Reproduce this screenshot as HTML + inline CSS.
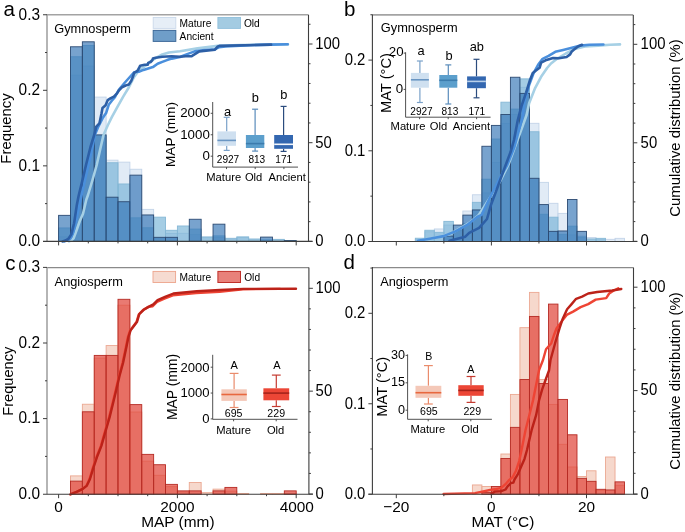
<!DOCTYPE html>
<html><head><meta charset="utf-8"><style>
html,body{margin:0;padding:0;background:#fff;}
body{width:685px;height:532px;overflow:hidden;}
svg{display:block;will-change:transform;filter:blur(0.3px);}
</style></head><body>
<svg width="685" height="532" viewBox="0 0 685 532" font-family='"Liberation Sans", sans-serif'>
<rect width="685" height="532" fill="#ffffff"/>
<rect x="58.60" y="236.87" width="11.88" height="4.53" fill="#c8daee" fill-opacity="0.55" stroke="#c3d4e8" stroke-width="0.9" />
<rect x="70.48" y="75.19" width="11.88" height="166.21" fill="#c8daee" fill-opacity="0.55" stroke="#c3d4e8" stroke-width="0.9" />
<rect x="82.36" y="66.12" width="11.88" height="175.28" fill="#c8daee" fill-opacity="0.55" stroke="#c3d4e8" stroke-width="0.9" />
<rect x="94.24" y="97.10" width="11.88" height="144.30" fill="#c8daee" fill-opacity="0.55" stroke="#c3d4e8" stroke-width="0.9" />
<rect x="106.12" y="160.18" width="11.88" height="81.22" fill="#c8daee" fill-opacity="0.55" stroke="#c3d4e8" stroke-width="0.9" />
<rect x="118.00" y="162.15" width="11.88" height="79.25" fill="#c8daee" fill-opacity="0.55" stroke="#c3d4e8" stroke-width="0.9" />
<rect x="129.88" y="169.25" width="11.88" height="72.15" fill="#c8daee" fill-opacity="0.55" stroke="#c3d4e8" stroke-width="0.9" />
<rect x="141.76" y="209.37" width="11.88" height="32.03" fill="#c8daee" fill-opacity="0.55" stroke="#c3d4e8" stroke-width="0.9" />
<rect x="153.64" y="238.38" width="11.88" height="3.02" fill="#c8daee" fill-opacity="0.55" stroke="#c3d4e8" stroke-width="0.9" />
<rect x="165.52" y="233.47" width="11.88" height="7.93" fill="#c8daee" fill-opacity="0.55" stroke="#c3d4e8" stroke-width="0.9" />
<rect x="177.40" y="233.32" width="11.88" height="8.08" fill="#c8daee" fill-opacity="0.55" stroke="#c3d4e8" stroke-width="0.9" />
<rect x="189.28" y="234.68" width="11.88" height="6.72" fill="#c8daee" fill-opacity="0.55" stroke="#c3d4e8" stroke-width="0.9" />
<rect x="201.16" y="237.02" width="11.88" height="4.38" fill="#c8daee" fill-opacity="0.55" stroke="#c3d4e8" stroke-width="0.9" />
<rect x="213.04" y="237.62" width="11.88" height="3.78" fill="#c8daee" fill-opacity="0.55" stroke="#c3d4e8" stroke-width="0.9" />
<rect x="224.92" y="239.13" width="11.88" height="2.27" fill="#c8daee" fill-opacity="0.55" stroke="#c3d4e8" stroke-width="0.9" />
<rect x="236.80" y="237.62" width="11.88" height="3.78" fill="#c8daee" fill-opacity="0.55" stroke="#c3d4e8" stroke-width="0.9" />
<rect x="248.68" y="239.89" width="11.88" height="1.51" fill="#c8daee" fill-opacity="0.55" stroke="#c3d4e8" stroke-width="0.9" />
<rect x="272.44" y="239.89" width="11.88" height="1.51" fill="#c8daee" fill-opacity="0.55" stroke="#c3d4e8" stroke-width="0.9" />
<rect x="58.60" y="227.95" width="11.88" height="13.45" fill="#6eafd4" fill-opacity="0.62" stroke="#86b8d6" stroke-width="0.9" />
<rect x="70.48" y="56.76" width="11.88" height="184.64" fill="#6eafd4" fill-opacity="0.62" stroke="#86b8d6" stroke-width="0.9" />
<rect x="82.36" y="45.50" width="11.88" height="195.90" fill="#6eafd4" fill-opacity="0.62" stroke="#86b8d6" stroke-width="0.9" />
<rect x="94.24" y="135.63" width="11.88" height="105.77" fill="#6eafd4" fill-opacity="0.62" stroke="#86b8d6" stroke-width="0.9" />
<rect x="106.12" y="162.75" width="11.88" height="78.65" fill="#6eafd4" fill-opacity="0.62" stroke="#86b8d6" stroke-width="0.9" />
<rect x="118.00" y="183.98" width="11.88" height="57.42" fill="#6eafd4" fill-opacity="0.62" stroke="#86b8d6" stroke-width="0.9" />
<rect x="129.88" y="217.83" width="11.88" height="23.57" fill="#6eafd4" fill-opacity="0.62" stroke="#86b8d6" stroke-width="0.9" />
<rect x="141.76" y="227.80" width="11.88" height="13.60" fill="#6eafd4" fill-opacity="0.62" stroke="#86b8d6" stroke-width="0.9" />
<rect x="153.64" y="217.15" width="11.88" height="24.25" fill="#6eafd4" fill-opacity="0.62" stroke="#86b8d6" stroke-width="0.9" />
<rect x="165.52" y="230.29" width="11.88" height="11.11" fill="#6eafd4" fill-opacity="0.62" stroke="#86b8d6" stroke-width="0.9" />
<rect x="177.40" y="225.99" width="11.88" height="15.41" fill="#6eafd4" fill-opacity="0.62" stroke="#86b8d6" stroke-width="0.9" />
<rect x="189.28" y="229.09" width="11.88" height="12.31" fill="#6eafd4" fill-opacity="0.62" stroke="#86b8d6" stroke-width="0.9" />
<rect x="201.16" y="237.02" width="11.88" height="4.38" fill="#6eafd4" fill-opacity="0.62" stroke="#86b8d6" stroke-width="0.9" />
<rect x="213.04" y="235.88" width="11.88" height="5.52" fill="#6eafd4" fill-opacity="0.62" stroke="#86b8d6" stroke-width="0.9" />
<rect x="224.92" y="238.30" width="11.88" height="3.10" fill="#6eafd4" fill-opacity="0.62" stroke="#86b8d6" stroke-width="0.9" />
<rect x="236.80" y="236.87" width="11.88" height="4.53" fill="#6eafd4" fill-opacity="0.62" stroke="#86b8d6" stroke-width="0.9" />
<rect x="248.68" y="238.98" width="11.88" height="2.42" fill="#6eafd4" fill-opacity="0.62" stroke="#86b8d6" stroke-width="0.9" />
<rect x="260.56" y="239.89" width="11.88" height="1.51" fill="#6eafd4" fill-opacity="0.62" stroke="#86b8d6" stroke-width="0.9" />
<rect x="272.44" y="239.36" width="11.88" height="2.04" fill="#6eafd4" fill-opacity="0.62" stroke="#86b8d6" stroke-width="0.9" />
<rect x="284.32" y="240.64" width="11.88" height="0.76" fill="#6eafd4" fill-opacity="0.62" stroke="#86b8d6" stroke-width="0.9" />
<rect x="58.60" y="215.34" width="11.88" height="26.06" fill="#3273b4" fill-opacity="0.66" stroke="#2c4a72" stroke-width="0.9" />
<rect x="70.48" y="46.78" width="11.88" height="194.62" fill="#3273b4" fill-opacity="0.66" stroke="#2c4a72" stroke-width="0.9" />
<rect x="82.36" y="41.80" width="11.88" height="199.60" fill="#3273b4" fill-opacity="0.66" stroke="#2c4a72" stroke-width="0.9" />
<rect x="94.24" y="134.87" width="11.88" height="106.53" fill="#3273b4" fill-opacity="0.66" stroke="#2c4a72" stroke-width="0.9" />
<rect x="106.12" y="197.20" width="11.88" height="44.20" fill="#3273b4" fill-opacity="0.66" stroke="#2c4a72" stroke-width="0.9" />
<rect x="118.00" y="201.74" width="11.88" height="39.66" fill="#3273b4" fill-opacity="0.66" stroke="#2c4a72" stroke-width="0.9" />
<rect x="129.88" y="175.14" width="11.88" height="66.26" fill="#3273b4" fill-opacity="0.66" stroke="#2c4a72" stroke-width="0.9" />
<rect x="141.76" y="214.96" width="11.88" height="26.44" fill="#3273b4" fill-opacity="0.66" stroke="#2c4a72" stroke-width="0.9" />
<rect x="153.64" y="237.32" width="11.88" height="4.08" fill="#3273b4" fill-opacity="0.66" stroke="#2c4a72" stroke-width="0.9" />
<rect x="165.52" y="237.32" width="11.88" height="4.08" fill="#3273b4" fill-opacity="0.66" stroke="#2c4a72" stroke-width="0.9" />
<rect x="189.28" y="219.26" width="11.88" height="22.14" fill="#3273b4" fill-opacity="0.66" stroke="#2c4a72" stroke-width="0.9" />
<rect x="213.04" y="224.17" width="11.88" height="17.23" fill="#3273b4" fill-opacity="0.66" stroke="#2c4a72" stroke-width="0.9" />
<rect x="260.56" y="237.09" width="11.88" height="4.31" fill="#3273b4" fill-opacity="0.66" stroke="#2c4a72" stroke-width="0.9" />
<rect x="284.32" y="240.64" width="11.88" height="0.76" fill="#3273b4" fill-opacity="0.66" stroke="#2c4a72" stroke-width="0.9" />
<polyline points="69.0,241.4 71.0,240.5 73.6,238.2 76.4,230.7 79.7,221.3 83.0,213.8 86.3,199.7 88.0,195.0 92.5,180.0 96.7,165.0 100.5,148.0 103.5,135.0 107.7,125.5 111.8,117.2 118.0,105.9 123.2,96.6 128.3,88.3 130.3,84.5 134.1,77.0 138.8,70.4 144.5,66.6 151.0,61.0 155.7,58.2 162.3,54.4 168.9,52.5 180.0,51.2 197.5,48.4 217.7,45.9 240.0,45.0 270.0,44.6 288.0,44.4" fill="none" stroke="#a6d0e5" stroke-width="2.6" stroke-linejoin="round" stroke-linecap="round" />
<polyline points="64.5,241.4 67.5,240.3 70.3,238.7 73.1,232.6 76.0,221.3 78.8,208.1 81.6,195.0 85.0,180.0 89.0,163.0 92.5,147.0 94.8,135.0 98.3,126.6 102.5,118.3 106.1,113.1 108.7,104.8 111.8,100.7 114.9,97.1 119.0,89.5 124.5,83.0 129.4,77.5 134.1,72.3 138.8,71.8 143.5,69.9 148.2,68.5 152.9,67.1 157.6,63.8 162.3,61.9 167.0,60.1 171.7,58.6 180.0,57.0 185.8,54.6 194.6,51.4 205.0,50.0 215.0,49.2 219.0,47.3 225.5,46.4 250.0,45.2 271.1,44.6 287.7,44.3" fill="none" stroke="#4a8fdc" stroke-width="2.6" stroke-linejoin="round" stroke-linecap="round" />
<polyline points="62.5,241.4 66.0,240.3 68.5,238.7 71.3,234.4 74.1,223.2 76.9,204.4 78.6,196.0 82.0,182.0 86.0,165.0 90.5,147.0 94.2,135.0 96.3,126.6 99.4,123.4 101.4,114.1 102.5,107.9 105.6,105.3 107.7,100.2 110.8,98.1 113.9,96.6 117.0,93.4 119.0,90.3 121.9,87.3 125.6,85.5 128.9,84.5 131.3,80.7 133.2,76.0 134.1,72.8 137.4,70.9 138.8,68.5 140.2,65.7 144.5,64.8 147.8,64.8 148.2,62.9 150.6,62.0 152.5,60.0 152.9,58.6 155.7,57.7 162.3,56.8 171.7,56.3 180.0,56.7 185.8,56.2 191.7,56.1 199.3,51.4 215.0,49.7 217.4,46.8 219.4,45.9 245.0,45.2 271.1,44.6" fill="none" stroke="#2d5fa6" stroke-width="2.6" stroke-linejoin="round" stroke-linecap="round" />
<line x1="47.00" y1="14.85" x2="308.50" y2="14.85" stroke="#a3a3a3" stroke-width="1.5"/>
<line x1="47.00" y1="14.35" x2="47.00" y2="241.40" stroke="#a3a3a3" stroke-width="1.6"/>
<line x1="43.00" y1="241.40" x2="312.50" y2="241.40" stroke="#3d3d3d" stroke-width="1.1"/>
<line x1="308.50" y1="14.85" x2="308.50" y2="241.40" stroke="#3d3d3d" stroke-width="1.1"/>
<line x1="43.00" y1="165.85" x2="47.00" y2="165.85" stroke="#3d3d3d" stroke-width="1.0"/>
<line x1="43.00" y1="90.30" x2="47.00" y2="90.30" stroke="#3d3d3d" stroke-width="1.0"/>
<line x1="43.00" y1="14.75" x2="47.00" y2="14.75" stroke="#3d3d3d" stroke-width="1.0"/>
<line x1="45.00" y1="203.62" x2="47.00" y2="203.62" stroke="#3d3d3d" stroke-width="1.0"/>
<line x1="45.00" y1="128.07" x2="47.00" y2="128.07" stroke="#3d3d3d" stroke-width="1.0"/>
<line x1="45.00" y1="52.53" x2="47.00" y2="52.53" stroke="#3d3d3d" stroke-width="1.0"/>
<text x="0" y="0" font-size="15.4" text-anchor="end" fill="#000" transform="translate(40.00,246.20) scale(1,1.07)">0.0</text>
<text x="0" y="0" font-size="15.4" text-anchor="end" fill="#000" transform="translate(40.00,170.65) scale(1,1.07)">0.1</text>
<text x="0" y="0" font-size="15.4" text-anchor="end" fill="#000" transform="translate(40.00,95.10) scale(1,1.07)">0.2</text>
<text x="0" y="0" font-size="15.4" text-anchor="end" fill="#000" transform="translate(40.00,19.55) scale(1,1.07)">0.3</text>
<line x1="308.50" y1="241.40" x2="312.50" y2="241.40" stroke="#3d3d3d" stroke-width="1.0"/>
<line x1="308.50" y1="142.70" x2="312.50" y2="142.70" stroke="#3d3d3d" stroke-width="1.0"/>
<line x1="308.50" y1="44.00" x2="312.50" y2="44.00" stroke="#3d3d3d" stroke-width="1.0"/>
<line x1="308.50" y1="221.66" x2="310.50" y2="221.66" stroke="#3d3d3d" stroke-width="1.0"/>
<line x1="308.50" y1="201.92" x2="310.50" y2="201.92" stroke="#3d3d3d" stroke-width="1.0"/>
<line x1="308.50" y1="182.18" x2="310.50" y2="182.18" stroke="#3d3d3d" stroke-width="1.0"/>
<line x1="308.50" y1="162.44" x2="310.50" y2="162.44" stroke="#3d3d3d" stroke-width="1.0"/>
<line x1="308.50" y1="122.96" x2="310.50" y2="122.96" stroke="#3d3d3d" stroke-width="1.0"/>
<line x1="308.50" y1="103.22" x2="310.50" y2="103.22" stroke="#3d3d3d" stroke-width="1.0"/>
<line x1="308.50" y1="83.48" x2="310.50" y2="83.48" stroke="#3d3d3d" stroke-width="1.0"/>
<line x1="308.50" y1="63.74" x2="310.50" y2="63.74" stroke="#3d3d3d" stroke-width="1.0"/>
<line x1="308.50" y1="24.26" x2="310.50" y2="24.26" stroke="#3d3d3d" stroke-width="1.0"/>
<text x="0" y="0" font-size="14.9" text-anchor="start" fill="#000" transform="translate(315.30,246.20) scale(1,1.07)">0</text>
<text x="0" y="0" font-size="14.9" text-anchor="start" fill="#000" transform="translate(315.30,147.50) scale(1,1.07)">50</text>
<text x="0" y="0" font-size="14.9" text-anchor="start" fill="#000" transform="translate(315.30,48.80) scale(1,1.07)">100</text>
<line x1="58.60" y1="241.40" x2="58.60" y2="245.40" stroke="#3d3d3d" stroke-width="1.0"/>
<line x1="177.40" y1="241.40" x2="177.40" y2="245.40" stroke="#3d3d3d" stroke-width="1.0"/>
<line x1="296.20" y1="241.40" x2="296.20" y2="245.40" stroke="#3d3d3d" stroke-width="1.0"/>
<line x1="88.30" y1="241.40" x2="88.30" y2="243.40" stroke="#3d3d3d" stroke-width="1.0"/>
<line x1="118.00" y1="241.40" x2="118.00" y2="243.40" stroke="#3d3d3d" stroke-width="1.0"/>
<line x1="147.70" y1="241.40" x2="147.70" y2="243.40" stroke="#3d3d3d" stroke-width="1.0"/>
<line x1="207.10" y1="241.40" x2="207.10" y2="243.40" stroke="#3d3d3d" stroke-width="1.0"/>
<line x1="236.80" y1="241.40" x2="236.80" y2="243.40" stroke="#3d3d3d" stroke-width="1.0"/>
<line x1="266.50" y1="241.40" x2="266.50" y2="243.40" stroke="#3d3d3d" stroke-width="1.0"/>
<text x="54.20" y="32.50" font-size="12.8" text-anchor="start" fill="#000" >Gymnosperm</text>
<rect x="153.20" y="17.50" width="22.60" height="10.90" fill="#e6eef7" stroke="#cbd9ea" stroke-width="0.9" />
<rect x="217.90" y="17.50" width="22.60" height="10.90" fill="#a3cbe2" stroke="#8fbfdb" stroke-width="0.9" />
<rect x="153.20" y="30.40" width="22.60" height="11.00" fill="#6f9ec9" stroke="#3d6a99" stroke-width="1.0" />
<text x="179.60" y="26.90" font-size="10.2" text-anchor="start" fill="#000" >Mature</text>
<text x="243.90" y="26.90" font-size="10.2" text-anchor="start" fill="#000" >Old</text>
<text x="179.60" y="39.70" font-size="10.2" text-anchor="start" fill="#000" >Ancient</text>
<line x1="212.70" y1="102.00" x2="212.70" y2="167.10" stroke="#3d3d3d" stroke-width="0.9"/>
<line x1="212.70" y1="167.10" x2="298.00" y2="167.10" stroke="#3d3d3d" stroke-width="0.9"/>
<line x1="210.70" y1="156.20" x2="212.70" y2="156.20" stroke="#3d3d3d" stroke-width="0.9"/>
<line x1="210.70" y1="134.75" x2="212.70" y2="134.75" stroke="#3d3d3d" stroke-width="0.9"/>
<line x1="210.70" y1="113.30" x2="212.70" y2="113.30" stroke="#3d3d3d" stroke-width="0.9"/>
<line x1="226.50" y1="167.10" x2="226.50" y2="169.10" stroke="#3d3d3d" stroke-width="0.9"/>
<line x1="255.20" y1="167.10" x2="255.20" y2="169.10" stroke="#3d3d3d" stroke-width="0.9"/>
<line x1="283.90" y1="167.10" x2="283.90" y2="169.10" stroke="#3d3d3d" stroke-width="0.9"/>
<text x="209.80" y="117.30" font-size="13.3" text-anchor="end" fill="#000" >2000</text>
<text x="209.80" y="138.75" font-size="13.3" text-anchor="end" fill="#000" >1000</text>
<text x="209.80" y="160.20" font-size="13.3" text-anchor="end" fill="#000" >0</text>
<text x="0" y="0" font-size="13.7" text-anchor="middle" fill="#000" transform="translate(175.30,134.50) rotate(-90)">MAP (mm)</text>
<line x1="226.70" y1="117.30" x2="226.70" y2="131.40" stroke="#7aa1c9" stroke-width="1.2"/>
<line x1="226.70" y1="145.80" x2="226.70" y2="150.40" stroke="#7aa1c9" stroke-width="1.2"/>
<line x1="223.70" y1="117.30" x2="229.70" y2="117.30" stroke="#7aa1c9" stroke-width="1.2"/>
<line x1="223.70" y1="150.40" x2="229.70" y2="150.40" stroke="#7aa1c9" stroke-width="1.2"/>
<rect x="217.40" y="131.40" width="18.60" height="14.40" fill="#cfe0f0" stroke="none" stroke-width="0" />
<line x1="217.40" y1="140.40" x2="236.00" y2="140.40" stroke="#6a96c3" stroke-width="1.6"/>
<line x1="255.10" y1="109.20" x2="255.10" y2="135.00" stroke="#5a8cbb" stroke-width="1.2"/>
<line x1="255.10" y1="148.00" x2="255.10" y2="151.10" stroke="#5a8cbb" stroke-width="1.2"/>
<line x1="252.10" y1="109.20" x2="258.10" y2="109.20" stroke="#5a8cbb" stroke-width="1.2"/>
<line x1="252.10" y1="151.10" x2="258.10" y2="151.10" stroke="#5a8cbb" stroke-width="1.2"/>
<rect x="245.90" y="135.00" width="18.40" height="13.00" fill="#5c9fcc" stroke="none" stroke-width="0" />
<line x1="245.90" y1="143.60" x2="264.30" y2="143.60" stroke="#3c7cad" stroke-width="1.6"/>
<line x1="283.60" y1="106.40" x2="283.60" y2="135.00" stroke="#2b4c7e" stroke-width="1.2"/>
<line x1="283.60" y1="148.80" x2="283.60" y2="151.40" stroke="#2b4c7e" stroke-width="1.2"/>
<line x1="280.60" y1="106.40" x2="286.60" y2="106.40" stroke="#2b4c7e" stroke-width="1.2"/>
<line x1="280.60" y1="151.40" x2="286.60" y2="151.40" stroke="#2b4c7e" stroke-width="1.2"/>
<rect x="274.20" y="135.00" width="18.80" height="13.80" fill="#3367b0" stroke="none" stroke-width="0" />
<line x1="274.20" y1="144.30" x2="293.00" y2="144.30" stroke="#f2f6fb" stroke-width="1.6"/>
<text x="227.60" y="115.50" font-size="12.8" text-anchor="middle" fill="#000" >a</text>
<text x="255.20" y="102.10" font-size="12.8" text-anchor="middle" fill="#000" >b</text>
<text x="283.70" y="98.60" font-size="12.8" text-anchor="middle" fill="#000" >b</text>
<text x="228.00" y="162.70" font-size="10.1" text-anchor="middle" fill="#000" >2927</text>
<text x="256.80" y="162.70" font-size="10.1" text-anchor="middle" fill="#000" >813</text>
<text x="283.70" y="162.70" font-size="10.1" text-anchor="middle" fill="#000" >171</text>
<text x="223.70" y="180.60" font-size="11.2" text-anchor="middle" fill="#000" >Mature</text>
<text x="253.60" y="180.60" font-size="11.2" text-anchor="middle" fill="#000" >Old</text>
<text x="287.20" y="180.60" font-size="11.2" text-anchor="middle" fill="#000" >Ancient</text>
<rect x="415.32" y="239.69" width="9.51" height="1.81" fill="#c8daee" fill-opacity="0.55" stroke="#c3d4e8" stroke-width="0.9" />
<rect x="424.83" y="231.80" width="9.51" height="9.70" fill="#c8daee" fill-opacity="0.55" stroke="#c3d4e8" stroke-width="0.9" />
<rect x="434.34" y="228.98" width="9.51" height="12.52" fill="#c8daee" fill-opacity="0.55" stroke="#c3d4e8" stroke-width="0.9" />
<rect x="443.85" y="225.08" width="9.51" height="16.42" fill="#c8daee" fill-opacity="0.55" stroke="#c3d4e8" stroke-width="0.9" />
<rect x="453.36" y="230.62" width="9.51" height="10.88" fill="#c8daee" fill-opacity="0.55" stroke="#c3d4e8" stroke-width="0.9" />
<rect x="462.87" y="211.02" width="9.51" height="30.48" fill="#c8daee" fill-opacity="0.55" stroke="#c3d4e8" stroke-width="0.9" />
<rect x="472.38" y="194.79" width="9.51" height="46.71" fill="#c8daee" fill-opacity="0.55" stroke="#c3d4e8" stroke-width="0.9" />
<rect x="481.89" y="192.98" width="9.51" height="48.52" fill="#c8daee" fill-opacity="0.55" stroke="#c3d4e8" stroke-width="0.9" />
<rect x="491.40" y="162.59" width="9.51" height="78.91" fill="#c8daee" fill-opacity="0.55" stroke="#c3d4e8" stroke-width="0.9" />
<rect x="500.91" y="123.59" width="9.51" height="117.91" fill="#c8daee" fill-opacity="0.55" stroke="#c3d4e8" stroke-width="0.9" />
<rect x="510.42" y="114.52" width="9.51" height="126.98" fill="#c8daee" fill-opacity="0.55" stroke="#c3d4e8" stroke-width="0.9" />
<rect x="519.93" y="87.31" width="9.51" height="154.19" fill="#c8daee" fill-opacity="0.55" stroke="#c3d4e8" stroke-width="0.9" />
<rect x="529.44" y="123.32" width="9.51" height="118.18" fill="#c8daee" fill-opacity="0.55" stroke="#c3d4e8" stroke-width="0.9" />
<rect x="538.95" y="182.36" width="9.51" height="59.14" fill="#c8daee" fill-opacity="0.55" stroke="#c3d4e8" stroke-width="0.9" />
<rect x="548.46" y="203.32" width="9.51" height="38.18" fill="#c8daee" fill-opacity="0.55" stroke="#c3d4e8" stroke-width="0.9" />
<rect x="557.97" y="213.38" width="9.51" height="28.12" fill="#c8daee" fill-opacity="0.55" stroke="#c3d4e8" stroke-width="0.9" />
<rect x="567.48" y="234.97" width="9.51" height="6.53" fill="#c8daee" fill-opacity="0.55" stroke="#c3d4e8" stroke-width="0.9" />
<rect x="576.99" y="236.06" width="9.51" height="5.44" fill="#c8daee" fill-opacity="0.55" stroke="#c3d4e8" stroke-width="0.9" />
<rect x="586.50" y="237.60" width="9.51" height="3.90" fill="#c8daee" fill-opacity="0.55" stroke="#c3d4e8" stroke-width="0.9" />
<rect x="596.01" y="239.69" width="9.51" height="1.81" fill="#c8daee" fill-opacity="0.55" stroke="#c3d4e8" stroke-width="0.9" />
<rect x="605.52" y="239.32" width="9.51" height="2.18" fill="#c8daee" fill-opacity="0.55" stroke="#c3d4e8" stroke-width="0.9" />
<rect x="615.03" y="238.33" width="9.51" height="3.17" fill="#c8daee" fill-opacity="0.55" stroke="#c3d4e8" stroke-width="0.9" />
<rect x="415.32" y="238.23" width="9.51" height="3.27" fill="#6eafd4" fill-opacity="0.62" stroke="#86b8d6" stroke-width="0.9" />
<rect x="424.83" y="230.25" width="9.51" height="11.25" fill="#6eafd4" fill-opacity="0.62" stroke="#86b8d6" stroke-width="0.9" />
<rect x="434.34" y="232.34" width="9.51" height="9.16" fill="#6eafd4" fill-opacity="0.62" stroke="#86b8d6" stroke-width="0.9" />
<rect x="443.85" y="221.36" width="9.51" height="20.14" fill="#6eafd4" fill-opacity="0.62" stroke="#86b8d6" stroke-width="0.9" />
<rect x="453.36" y="230.62" width="9.51" height="10.88" fill="#6eafd4" fill-opacity="0.62" stroke="#86b8d6" stroke-width="0.9" />
<rect x="462.87" y="223.36" width="9.51" height="18.14" fill="#6eafd4" fill-opacity="0.62" stroke="#86b8d6" stroke-width="0.9" />
<rect x="472.38" y="202.32" width="9.51" height="39.18" fill="#6eafd4" fill-opacity="0.62" stroke="#86b8d6" stroke-width="0.9" />
<rect x="481.89" y="179.19" width="9.51" height="62.31" fill="#6eafd4" fill-opacity="0.62" stroke="#86b8d6" stroke-width="0.9" />
<rect x="491.40" y="139.01" width="9.51" height="102.49" fill="#6eafd4" fill-opacity="0.62" stroke="#86b8d6" stroke-width="0.9" />
<rect x="500.91" y="102.18" width="9.51" height="139.32" fill="#6eafd4" fill-opacity="0.62" stroke="#86b8d6" stroke-width="0.9" />
<rect x="510.42" y="109.08" width="9.51" height="132.42" fill="#6eafd4" fill-opacity="0.62" stroke="#86b8d6" stroke-width="0.9" />
<rect x="519.93" y="78.87" width="9.51" height="162.63" fill="#6eafd4" fill-opacity="0.62" stroke="#86b8d6" stroke-width="0.9" />
<rect x="529.44" y="131.75" width="9.51" height="109.75" fill="#6eafd4" fill-opacity="0.62" stroke="#86b8d6" stroke-width="0.9" />
<rect x="538.95" y="214.29" width="9.51" height="27.21" fill="#6eafd4" fill-opacity="0.62" stroke="#86b8d6" stroke-width="0.9" />
<rect x="548.46" y="217.19" width="9.51" height="24.31" fill="#6eafd4" fill-opacity="0.62" stroke="#86b8d6" stroke-width="0.9" />
<rect x="557.97" y="234.24" width="9.51" height="7.26" fill="#6eafd4" fill-opacity="0.62" stroke="#86b8d6" stroke-width="0.9" />
<rect x="567.48" y="226.17" width="9.51" height="15.33" fill="#6eafd4" fill-opacity="0.62" stroke="#86b8d6" stroke-width="0.9" />
<rect x="576.99" y="236.97" width="9.51" height="4.53" fill="#6eafd4" fill-opacity="0.62" stroke="#86b8d6" stroke-width="0.9" />
<rect x="586.50" y="238.96" width="9.51" height="2.54" fill="#6eafd4" fill-opacity="0.62" stroke="#86b8d6" stroke-width="0.9" />
<rect x="596.01" y="238.33" width="9.51" height="3.17" fill="#6eafd4" fill-opacity="0.62" stroke="#86b8d6" stroke-width="0.9" />
<rect x="443.85" y="236.06" width="9.51" height="5.44" fill="#3273b4" fill-opacity="0.66" stroke="#2c4a72" stroke-width="0.9" />
<rect x="453.36" y="225.08" width="9.51" height="16.42" fill="#3273b4" fill-opacity="0.66" stroke="#2c4a72" stroke-width="0.9" />
<rect x="462.87" y="215.11" width="9.51" height="26.39" fill="#3273b4" fill-opacity="0.66" stroke="#2c4a72" stroke-width="0.9" />
<rect x="472.38" y="209.94" width="9.51" height="31.56" fill="#3273b4" fill-opacity="0.66" stroke="#2c4a72" stroke-width="0.9" />
<rect x="481.89" y="146.26" width="9.51" height="95.24" fill="#3273b4" fill-opacity="0.66" stroke="#2c4a72" stroke-width="0.9" />
<rect x="491.40" y="125.40" width="9.51" height="116.10" fill="#3273b4" fill-opacity="0.66" stroke="#2c4a72" stroke-width="0.9" />
<rect x="500.91" y="114.52" width="9.51" height="126.98" fill="#3273b4" fill-opacity="0.66" stroke="#2c4a72" stroke-width="0.9" />
<rect x="510.42" y="77.24" width="9.51" height="164.26" fill="#3273b4" fill-opacity="0.66" stroke="#2c4a72" stroke-width="0.9" />
<rect x="519.93" y="93.39" width="9.51" height="148.11" fill="#3273b4" fill-opacity="0.66" stroke="#2c4a72" stroke-width="0.9" />
<rect x="529.44" y="178.28" width="9.51" height="63.22" fill="#3273b4" fill-opacity="0.66" stroke="#2c4a72" stroke-width="0.9" />
<rect x="538.95" y="204.59" width="9.51" height="36.91" fill="#3273b4" fill-opacity="0.66" stroke="#2c4a72" stroke-width="0.9" />
<rect x="548.46" y="231.34" width="9.51" height="10.16" fill="#3273b4" fill-opacity="0.66" stroke="#2c4a72" stroke-width="0.9" />
<rect x="557.97" y="230.98" width="9.51" height="10.52" fill="#3273b4" fill-opacity="0.66" stroke="#2c4a72" stroke-width="0.9" />
<rect x="567.48" y="199.51" width="9.51" height="41.99" fill="#3273b4" fill-opacity="0.66" stroke="#2c4a72" stroke-width="0.9" />
<rect x="576.99" y="231.34" width="9.51" height="10.16" fill="#3273b4" fill-opacity="0.66" stroke="#2c4a72" stroke-width="0.9" />
<polyline points="417.9,240.7 429.7,239.0 449.5,234.3 469.2,222.9 478.8,214.9 490.0,197.6 499.4,182.6 508.8,163.8 516.3,143.2 521.9,128.1 526.6,115.0 529.1,103.2 535.1,88.1 541.1,76.8 547.1,68.0 551.0,63.5 557.0,58.8 565.8,53.5 574.5,49.1 585.0,46.5 598.2,45.6 610.0,44.8 620.0,44.4" fill="none" stroke="#a6d0e5" stroke-width="2.6" stroke-linejoin="round" stroke-linecap="round" />
<polyline points="417.9,240.7 429.7,238.7 443.6,236.1 455.4,231.4 467.2,224.9 477.1,217.0 481.6,214.9 491.9,193.8 499.4,178.8 506.9,165.7 514.4,146.9 520.0,126.3 522.9,115.0 524.5,101.7 529.1,85.1 533.6,73.1 538.1,64.8 542.6,58.8 548.6,55.8 555.3,51.8 563.1,50.0 571.9,47.8 580.6,45.6 589.4,44.8 603.4,44.5" fill="none" stroke="#4a8fdc" stroke-width="2.6" stroke-linejoin="round" stroke-linecap="round" />
<polyline points="449.5,240.7 465.3,236.7 469.2,232.8 479.1,227.8 487.0,219.0 490.9,205.1 496.8,189.3 504.7,167.6 510.7,151.8 514.0,140.0 517.8,120.0 521.5,106.2 526.1,92.6 529.8,80.6 532.8,73.1 536.6,70.1 539.6,67.8 541.1,62.6 545.6,60.3 553.1,58.0 558.8,58.3 566.6,57.0 570.1,54.4 571.5,51.8 574.5,49.1 578.0,46.5 582.0,44.8" fill="none" stroke="#2d5fa6" stroke-width="2.6" stroke-linejoin="round" stroke-linecap="round" />
<line x1="372.40" y1="14.90" x2="633.30" y2="14.90" stroke="#a3a3a3" stroke-width="1.6"/>
<line x1="372.40" y1="14.40" x2="372.40" y2="241.50" stroke="#3d3d3d" stroke-width="1.1"/>
<line x1="368.40" y1="241.50" x2="637.30" y2="241.50" stroke="#3d3d3d" stroke-width="1.1"/>
<line x1="633.30" y1="14.90" x2="633.30" y2="241.50" stroke="#3d3d3d" stroke-width="1.1"/>
<line x1="368.40" y1="241.50" x2="372.40" y2="241.50" stroke="#3d3d3d" stroke-width="1.0"/>
<line x1="368.40" y1="150.80" x2="372.40" y2="150.80" stroke="#3d3d3d" stroke-width="1.0"/>
<line x1="368.40" y1="60.10" x2="372.40" y2="60.10" stroke="#3d3d3d" stroke-width="1.0"/>
<line x1="370.40" y1="196.15" x2="372.40" y2="196.15" stroke="#3d3d3d" stroke-width="1.0"/>
<line x1="370.40" y1="105.45" x2="372.40" y2="105.45" stroke="#3d3d3d" stroke-width="1.0"/>
<line x1="370.40" y1="14.75" x2="372.40" y2="14.75" stroke="#3d3d3d" stroke-width="1.0"/>
<text x="0" y="0" font-size="14.9" text-anchor="end" fill="#000" transform="translate(365.40,246.30) scale(1,1.07)">0.0</text>
<text x="0" y="0" font-size="14.9" text-anchor="end" fill="#000" transform="translate(365.40,155.60) scale(1,1.07)">0.1</text>
<text x="0" y="0" font-size="14.9" text-anchor="end" fill="#000" transform="translate(365.40,64.90) scale(1,1.07)">0.2</text>
<line x1="633.30" y1="241.30" x2="637.30" y2="241.30" stroke="#3d3d3d" stroke-width="1.0"/>
<line x1="633.30" y1="142.80" x2="637.30" y2="142.80" stroke="#3d3d3d" stroke-width="1.0"/>
<line x1="633.30" y1="44.30" x2="637.30" y2="44.30" stroke="#3d3d3d" stroke-width="1.0"/>
<line x1="633.30" y1="221.60" x2="635.30" y2="221.60" stroke="#3d3d3d" stroke-width="1.0"/>
<line x1="633.30" y1="201.90" x2="635.30" y2="201.90" stroke="#3d3d3d" stroke-width="1.0"/>
<line x1="633.30" y1="182.20" x2="635.30" y2="182.20" stroke="#3d3d3d" stroke-width="1.0"/>
<line x1="633.30" y1="162.50" x2="635.30" y2="162.50" stroke="#3d3d3d" stroke-width="1.0"/>
<line x1="633.30" y1="123.10" x2="635.30" y2="123.10" stroke="#3d3d3d" stroke-width="1.0"/>
<line x1="633.30" y1="103.40" x2="635.30" y2="103.40" stroke="#3d3d3d" stroke-width="1.0"/>
<line x1="633.30" y1="83.70" x2="635.30" y2="83.70" stroke="#3d3d3d" stroke-width="1.0"/>
<line x1="633.30" y1="64.00" x2="635.30" y2="64.00" stroke="#3d3d3d" stroke-width="1.0"/>
<line x1="633.30" y1="24.60" x2="635.30" y2="24.60" stroke="#3d3d3d" stroke-width="1.0"/>
<text x="0" y="0" font-size="14.9" text-anchor="start" fill="#000" transform="translate(640.60,246.10) scale(1,1.07)">0</text>
<text x="0" y="0" font-size="14.9" text-anchor="start" fill="#000" transform="translate(640.60,147.60) scale(1,1.07)">50</text>
<text x="0" y="0" font-size="14.9" text-anchor="start" fill="#000" transform="translate(640.60,49.10) scale(1,1.07)">100</text>
<line x1="396.30" y1="241.50" x2="396.30" y2="245.50" stroke="#3d3d3d" stroke-width="1.0"/>
<line x1="491.40" y1="241.50" x2="491.40" y2="245.50" stroke="#3d3d3d" stroke-width="1.0"/>
<line x1="586.50" y1="241.50" x2="586.50" y2="245.50" stroke="#3d3d3d" stroke-width="1.0"/>
<line x1="443.85" y1="241.50" x2="443.85" y2="243.50" stroke="#3d3d3d" stroke-width="1.0"/>
<line x1="538.95" y1="241.50" x2="538.95" y2="243.50" stroke="#3d3d3d" stroke-width="1.0"/>
<text x="380.80" y="32.30" font-size="12.8" text-anchor="start" fill="#000" >Gymnosperm</text>
<text x="0" y="0" font-size="14.85" text-anchor="middle" fill="#000" transform="translate(680.00,128.00) rotate(-90)">Cumulative distribution (%)</text>
<line x1="405.60" y1="52.30" x2="405.60" y2="117.20" stroke="#3d3d3d" stroke-width="0.9"/>
<line x1="405.60" y1="117.20" x2="490.60" y2="117.20" stroke="#3d3d3d" stroke-width="0.9"/>
<line x1="403.60" y1="89.40" x2="405.60" y2="89.40" stroke="#3d3d3d" stroke-width="0.9"/>
<line x1="403.60" y1="53.10" x2="405.60" y2="53.10" stroke="#3d3d3d" stroke-width="0.9"/>
<line x1="419.60" y1="117.20" x2="419.60" y2="119.20" stroke="#3d3d3d" stroke-width="0.9"/>
<line x1="448.20" y1="117.20" x2="448.20" y2="119.20" stroke="#3d3d3d" stroke-width="0.9"/>
<line x1="476.60" y1="117.20" x2="476.60" y2="119.20" stroke="#3d3d3d" stroke-width="0.9"/>
<text x="403.60" y="55.70" font-size="13.3" text-anchor="end" fill="#000" >20</text>
<text x="403.20" y="93.00" font-size="13.3" text-anchor="end" fill="#000" >0</text>
<text x="0" y="0" font-size="14.7" text-anchor="middle" fill="#000" transform="translate(390.60,83.10) rotate(-90)">MAT (°C)</text>
<line x1="419.90" y1="61.00" x2="419.90" y2="72.90" stroke="#7aa1c9" stroke-width="1.2"/>
<line x1="419.90" y1="87.70" x2="419.90" y2="102.50" stroke="#7aa1c9" stroke-width="1.2"/>
<line x1="416.90" y1="61.00" x2="422.90" y2="61.00" stroke="#7aa1c9" stroke-width="1.2"/>
<line x1="416.90" y1="102.50" x2="422.90" y2="102.50" stroke="#7aa1c9" stroke-width="1.2"/>
<rect x="410.90" y="72.90" width="18.00" height="14.80" fill="#cfe0f0" stroke="none" stroke-width="0" />
<line x1="410.90" y1="79.80" x2="428.90" y2="79.80" stroke="#6a96c3" stroke-width="1.6"/>
<line x1="448.30" y1="64.90" x2="448.30" y2="75.00" stroke="#5a8cbb" stroke-width="1.2"/>
<line x1="448.30" y1="87.70" x2="448.30" y2="104.00" stroke="#5a8cbb" stroke-width="1.2"/>
<line x1="445.30" y1="64.90" x2="451.30" y2="64.90" stroke="#5a8cbb" stroke-width="1.2"/>
<line x1="445.30" y1="104.00" x2="451.30" y2="104.00" stroke="#5a8cbb" stroke-width="1.2"/>
<rect x="439.30" y="75.00" width="18.00" height="12.70" fill="#5c9fcc" stroke="none" stroke-width="0" />
<line x1="439.30" y1="80.30" x2="457.30" y2="80.30" stroke="#3c7cad" stroke-width="1.6"/>
<line x1="476.50" y1="59.30" x2="476.50" y2="76.40" stroke="#2b4c7e" stroke-width="1.2"/>
<line x1="476.50" y1="88.20" x2="476.50" y2="97.80" stroke="#2b4c7e" stroke-width="1.2"/>
<line x1="473.50" y1="59.30" x2="479.50" y2="59.30" stroke="#2b4c7e" stroke-width="1.2"/>
<line x1="473.50" y1="97.80" x2="479.50" y2="97.80" stroke="#2b4c7e" stroke-width="1.2"/>
<rect x="467.10" y="76.40" width="18.80" height="11.80" fill="#3367b0" stroke="none" stroke-width="0" />
<line x1="467.10" y1="81.40" x2="485.90" y2="81.40" stroke="#b9d0ea" stroke-width="1.6"/>
<text x="421.00" y="55.40" font-size="12.8" text-anchor="middle" fill="#000" >a</text>
<text x="449.10" y="59.60" font-size="12.8" text-anchor="middle" fill="#000" >b</text>
<text x="476.80" y="50.90" font-size="12.8" text-anchor="middle" fill="#000" >ab</text>
<text x="421.50" y="115.00" font-size="10.1" text-anchor="middle" fill="#000" >2927</text>
<text x="449.90" y="115.00" font-size="10.1" text-anchor="middle" fill="#000" >813</text>
<text x="476.80" y="115.00" font-size="10.1" text-anchor="middle" fill="#000" >171</text>
<text x="408.00" y="129.90" font-size="11.2" text-anchor="middle" fill="#000" >Mature</text>
<text x="438.40" y="129.90" font-size="11.2" text-anchor="middle" fill="#000" >Old</text>
<text x="471.40" y="129.90" font-size="11.2" text-anchor="middle" fill="#000" >Ancient</text>
<rect x="70.48" y="475.90" width="11.88" height="18.30" fill="#f0beaa" fill-opacity="0.6" stroke="#eba892" stroke-width="0.9" />
<rect x="82.36" y="404.24" width="11.88" height="89.96" fill="#f0beaa" fill-opacity="0.6" stroke="#eba892" stroke-width="0.9" />
<rect x="94.24" y="358.12" width="11.88" height="136.08" fill="#f0beaa" fill-opacity="0.6" stroke="#eba892" stroke-width="0.9" />
<rect x="106.12" y="345.57" width="11.88" height="148.63" fill="#f0beaa" fill-opacity="0.6" stroke="#eba892" stroke-width="0.9" />
<rect x="118.00" y="305.20" width="11.88" height="189.00" fill="#f0beaa" fill-opacity="0.6" stroke="#eba892" stroke-width="0.9" />
<rect x="129.88" y="412.02" width="11.88" height="82.18" fill="#f0beaa" fill-opacity="0.6" stroke="#eba892" stroke-width="0.9" />
<rect x="141.76" y="461.16" width="11.88" height="33.04" fill="#f0beaa" fill-opacity="0.6" stroke="#eba892" stroke-width="0.9" />
<rect x="153.64" y="475.30" width="11.88" height="18.90" fill="#f0beaa" fill-opacity="0.6" stroke="#eba892" stroke-width="0.9" />
<rect x="165.52" y="486.64" width="11.88" height="7.56" fill="#f0beaa" fill-opacity="0.6" stroke="#eba892" stroke-width="0.9" />
<rect x="177.40" y="491.93" width="11.88" height="2.27" fill="#f0beaa" fill-opacity="0.6" stroke="#eba892" stroke-width="0.9" />
<rect x="189.28" y="482.48" width="11.88" height="11.72" fill="#f0beaa" fill-opacity="0.6" stroke="#eba892" stroke-width="0.9" />
<rect x="201.16" y="492.69" width="11.88" height="1.51" fill="#f0beaa" fill-opacity="0.6" stroke="#eba892" stroke-width="0.9" />
<rect x="213.04" y="489.13" width="11.88" height="5.07" fill="#f0beaa" fill-opacity="0.6" stroke="#eba892" stroke-width="0.9" />
<rect x="224.92" y="491.18" width="11.88" height="3.02" fill="#f0beaa" fill-opacity="0.6" stroke="#eba892" stroke-width="0.9" />
<rect x="236.80" y="493.44" width="11.88" height="0.76" fill="#f0beaa" fill-opacity="0.6" stroke="#eba892" stroke-width="0.9" />
<rect x="260.56" y="493.44" width="11.88" height="0.76" fill="#f0beaa" fill-opacity="0.6" stroke="#eba892" stroke-width="0.9" />
<rect x="272.44" y="493.44" width="11.88" height="0.76" fill="#f0beaa" fill-opacity="0.6" stroke="#eba892" stroke-width="0.9" />
<rect x="284.32" y="493.44" width="11.88" height="0.76" fill="#f0beaa" fill-opacity="0.6" stroke="#eba892" stroke-width="0.9" />
<rect x="70.48" y="481.12" width="11.88" height="13.08" fill="#e1463c" fill-opacity="0.72" stroke="#b52b24" stroke-width="0.9" />
<rect x="82.36" y="411.80" width="11.88" height="82.40" fill="#e1463c" fill-opacity="0.72" stroke="#b52b24" stroke-width="0.9" />
<rect x="94.24" y="355.40" width="11.88" height="138.80" fill="#e1463c" fill-opacity="0.72" stroke="#b52b24" stroke-width="0.9" />
<rect x="106.12" y="355.40" width="11.88" height="138.80" fill="#e1463c" fill-opacity="0.72" stroke="#b52b24" stroke-width="0.9" />
<rect x="118.00" y="299.30" width="11.88" height="194.90" fill="#e1463c" fill-opacity="0.72" stroke="#b52b24" stroke-width="0.9" />
<rect x="129.88" y="404.61" width="11.88" height="89.59" fill="#e1463c" fill-opacity="0.72" stroke="#b52b24" stroke-width="0.9" />
<rect x="141.76" y="454.36" width="11.88" height="39.84" fill="#e1463c" fill-opacity="0.72" stroke="#b52b24" stroke-width="0.9" />
<rect x="153.64" y="464.72" width="11.88" height="29.48" fill="#e1463c" fill-opacity="0.72" stroke="#b52b24" stroke-width="0.9" />
<rect x="165.52" y="484.37" width="11.88" height="9.83" fill="#e1463c" fill-opacity="0.72" stroke="#b52b24" stroke-width="0.9" />
<rect x="177.40" y="490.87" width="11.88" height="3.33" fill="#e1463c" fill-opacity="0.72" stroke="#b52b24" stroke-width="0.9" />
<rect x="189.28" y="490.87" width="11.88" height="3.33" fill="#e1463c" fill-opacity="0.72" stroke="#b52b24" stroke-width="0.9" />
<rect x="213.04" y="490.87" width="11.88" height="3.33" fill="#e1463c" fill-opacity="0.72" stroke="#b52b24" stroke-width="0.9" />
<rect x="224.92" y="487.40" width="11.88" height="6.80" fill="#e1463c" fill-opacity="0.72" stroke="#b52b24" stroke-width="0.9" />
<rect x="284.32" y="490.87" width="11.88" height="3.33" fill="#e1463c" fill-opacity="0.72" stroke="#b52b24" stroke-width="0.9" />
<polyline points="70.2,494.5 76.0,492.1 82.2,489.2 86.3,485.9 89.4,479.3 92.5,469.0 96.7,456.5 100.8,446.2 104.9,431.7 109.1,417.2 113.0,401.3 115.9,389.3 118.9,376.3 122.5,363.1 125.7,347.9 127.9,337.1 130.0,330.7 133.3,326.3 136.5,322.0 138.7,314.5 143.0,310.1 148.4,306.9 152.7,306.2 157.0,301.9 164.4,298.7 172.8,295.3 196.1,293.0 219.5,291.8 242.8,289.2 280.0,288.9" fill="none" stroke="#ee4434" stroke-width="2.4" stroke-linejoin="round" stroke-linecap="round" />
<polyline points="70.8,494.2 76.6,491.8 82.8,488.9 86.9,485.6 90.0,479.0 93.1,468.7 97.3,456.2 101.4,445.9 105.5,431.4 109.7,416.9 113.6,401.0 116.5,389.0 119.5,376.0 123.1,362.8 126.3,347.6 128.5,336.8 130.6,330.4 133.9,326.0 137.1,321.7 139.3,314.2 143.6,309.8 149.0,306.6 153.3,304.4 157.6,300.1 165.0,296.9 173.4,293.5 196.7,291.2 220.1,290.0 243.4,288.9 296.0,288.7" fill="none" stroke="#bc2219" stroke-width="2.4" stroke-linejoin="round" stroke-linecap="round" />
<line x1="47.00" y1="267.60" x2="308.90" y2="267.60" stroke="#8a8a8a" stroke-width="1.1"/>
<line x1="47.00" y1="267.10" x2="47.00" y2="494.20" stroke="#a3a3a3" stroke-width="1.6"/>
<line x1="43.00" y1="494.20" x2="312.90" y2="494.20" stroke="#3d3d3d" stroke-width="1.1"/>
<line x1="308.90" y1="267.60" x2="308.90" y2="494.20" stroke="#3d3d3d" stroke-width="1.1"/>
<line x1="43.00" y1="418.60" x2="47.00" y2="418.60" stroke="#3d3d3d" stroke-width="1.0"/>
<line x1="43.00" y1="343.00" x2="47.00" y2="343.00" stroke="#3d3d3d" stroke-width="1.0"/>
<line x1="43.00" y1="267.40" x2="47.00" y2="267.40" stroke="#3d3d3d" stroke-width="1.0"/>
<line x1="45.00" y1="456.40" x2="47.00" y2="456.40" stroke="#3d3d3d" stroke-width="1.0"/>
<line x1="45.00" y1="380.80" x2="47.00" y2="380.80" stroke="#3d3d3d" stroke-width="1.0"/>
<line x1="45.00" y1="305.20" x2="47.00" y2="305.20" stroke="#3d3d3d" stroke-width="1.0"/>
<text x="0" y="0" font-size="15.4" text-anchor="end" fill="#000" transform="translate(40.00,499.00) scale(1,1.07)">0.0</text>
<text x="0" y="0" font-size="15.4" text-anchor="end" fill="#000" transform="translate(40.00,423.40) scale(1,1.07)">0.1</text>
<text x="0" y="0" font-size="15.4" text-anchor="end" fill="#000" transform="translate(40.00,347.80) scale(1,1.07)">0.2</text>
<text x="0" y="0" font-size="15.4" text-anchor="end" fill="#000" transform="translate(40.00,272.20) scale(1,1.07)">0.3</text>
<line x1="308.90" y1="494.00" x2="312.90" y2="494.00" stroke="#3d3d3d" stroke-width="1.0"/>
<line x1="308.90" y1="391.15" x2="312.90" y2="391.15" stroke="#3d3d3d" stroke-width="1.0"/>
<line x1="308.90" y1="288.30" x2="312.90" y2="288.30" stroke="#3d3d3d" stroke-width="1.0"/>
<line x1="308.90" y1="473.43" x2="310.90" y2="473.43" stroke="#3d3d3d" stroke-width="1.0"/>
<line x1="308.90" y1="452.86" x2="310.90" y2="452.86" stroke="#3d3d3d" stroke-width="1.0"/>
<line x1="308.90" y1="432.29" x2="310.90" y2="432.29" stroke="#3d3d3d" stroke-width="1.0"/>
<line x1="308.90" y1="411.72" x2="310.90" y2="411.72" stroke="#3d3d3d" stroke-width="1.0"/>
<line x1="308.90" y1="370.58" x2="310.90" y2="370.58" stroke="#3d3d3d" stroke-width="1.0"/>
<line x1="308.90" y1="350.01" x2="310.90" y2="350.01" stroke="#3d3d3d" stroke-width="1.0"/>
<line x1="308.90" y1="329.44" x2="310.90" y2="329.44" stroke="#3d3d3d" stroke-width="1.0"/>
<line x1="308.90" y1="308.87" x2="310.90" y2="308.87" stroke="#3d3d3d" stroke-width="1.0"/>
<text x="0" y="0" font-size="14.9" text-anchor="start" fill="#000" transform="translate(315.60,498.80) scale(1,1.07)">0</text>
<text x="0" y="0" font-size="14.9" text-anchor="start" fill="#000" transform="translate(315.60,395.95) scale(1,1.07)">50</text>
<text x="0" y="0" font-size="14.9" text-anchor="start" fill="#000" transform="translate(315.60,293.10) scale(1,1.07)">100</text>
<line x1="58.60" y1="494.20" x2="58.60" y2="498.20" stroke="#3d3d3d" stroke-width="1.0"/>
<line x1="177.40" y1="494.20" x2="177.40" y2="498.20" stroke="#3d3d3d" stroke-width="1.0"/>
<line x1="296.20" y1="494.20" x2="296.20" y2="498.20" stroke="#3d3d3d" stroke-width="1.0"/>
<line x1="88.30" y1="494.20" x2="88.30" y2="496.20" stroke="#3d3d3d" stroke-width="1.0"/>
<line x1="118.00" y1="494.20" x2="118.00" y2="496.20" stroke="#3d3d3d" stroke-width="1.0"/>
<line x1="147.70" y1="494.20" x2="147.70" y2="496.20" stroke="#3d3d3d" stroke-width="1.0"/>
<line x1="207.10" y1="494.20" x2="207.10" y2="496.20" stroke="#3d3d3d" stroke-width="1.0"/>
<line x1="236.80" y1="494.20" x2="236.80" y2="496.20" stroke="#3d3d3d" stroke-width="1.0"/>
<line x1="266.50" y1="494.20" x2="266.50" y2="496.20" stroke="#3d3d3d" stroke-width="1.0"/>
<text x="54.60" y="286.10" font-size="12.8" text-anchor="start" fill="#000" >Angiosperm</text>
<rect x="153.00" y="271.40" width="22.60" height="11.10" fill="#f6dbd1" stroke="#eda48c" stroke-width="0.9" />
<rect x="217.90" y="271.40" width="22.60" height="11.10" fill="#e8817a" stroke="#c0302a" stroke-width="1.0" />
<text x="179.40" y="280.70" font-size="10.2" text-anchor="start" fill="#000" >Mature</text>
<text x="244.20" y="280.70" font-size="10.2" text-anchor="start" fill="#000" >Old</text>
<line x1="212.70" y1="354.80" x2="212.70" y2="419.30" stroke="#3d3d3d" stroke-width="0.9"/>
<line x1="212.70" y1="419.30" x2="297.50" y2="419.30" stroke="#3d3d3d" stroke-width="0.9"/>
<line x1="210.70" y1="418.90" x2="212.70" y2="418.90" stroke="#3d3d3d" stroke-width="0.9"/>
<line x1="210.70" y1="393.05" x2="212.70" y2="393.05" stroke="#3d3d3d" stroke-width="0.9"/>
<line x1="210.70" y1="367.20" x2="212.70" y2="367.20" stroke="#3d3d3d" stroke-width="0.9"/>
<line x1="233.60" y1="419.30" x2="233.60" y2="421.30" stroke="#3d3d3d" stroke-width="0.9"/>
<line x1="276.20" y1="419.30" x2="276.20" y2="421.30" stroke="#3d3d3d" stroke-width="0.9"/>
<text x="209.60" y="371.50" font-size="13.1" text-anchor="end" fill="#000" >2000</text>
<text x="209.60" y="397.35" font-size="13.1" text-anchor="end" fill="#000" >1000</text>
<text x="209.60" y="423.20" font-size="13.1" text-anchor="end" fill="#000" >0</text>
<text x="0" y="0" font-size="13.9" text-anchor="middle" fill="#000" transform="translate(176.90,387.00) rotate(-90)">MAP (mm)</text>
<line x1="234.10" y1="373.40" x2="234.10" y2="389.30" stroke="#ea8c6c" stroke-width="1.2"/>
<line x1="234.10" y1="400.90" x2="234.10" y2="407.50" stroke="#ea8c6c" stroke-width="1.2"/>
<line x1="229.70" y1="373.40" x2="238.50" y2="373.40" stroke="#ea8c6c" stroke-width="1.2"/>
<line x1="229.70" y1="407.50" x2="238.50" y2="407.50" stroke="#ea8c6c" stroke-width="1.2"/>
<rect x="221.40" y="389.30" width="25.40" height="11.60" fill="#f4c8b8" stroke="none" stroke-width="0" />
<line x1="221.40" y1="394.50" x2="246.80" y2="394.50" stroke="#e8683f" stroke-width="1.6"/>
<line x1="276.30" y1="375.10" x2="276.30" y2="388.30" stroke="#c53b31" stroke-width="1.2"/>
<line x1="276.30" y1="400.30" x2="276.30" y2="406.50" stroke="#c53b31" stroke-width="1.2"/>
<line x1="271.90" y1="375.10" x2="280.70" y2="375.10" stroke="#c53b31" stroke-width="1.2"/>
<line x1="271.90" y1="406.50" x2="280.70" y2="406.50" stroke="#c53b31" stroke-width="1.2"/>
<rect x="263.40" y="388.30" width="25.80" height="12.00" fill="#ec4636" stroke="none" stroke-width="0" />
<line x1="263.40" y1="393.10" x2="289.20" y2="393.10" stroke="#a5231b" stroke-width="1.6"/>
<text x="234.10" y="368.80" font-size="11.0" text-anchor="middle" fill="#000" >A</text>
<text x="276.80" y="368.80" font-size="11.0" text-anchor="middle" fill="#000" >A</text>
<text x="233.60" y="416.80" font-size="10.6" text-anchor="middle" fill="#000" >695</text>
<text x="276.20" y="416.80" font-size="10.6" text-anchor="middle" fill="#000" >229</text>
<text x="233.60" y="434.00" font-size="11.2" text-anchor="middle" fill="#000" >Mature</text>
<text x="275.60" y="434.00" font-size="11.2" text-anchor="middle" fill="#000" >Old</text>
<text x="58.60" y="512.40" font-size="15.4" text-anchor="middle" fill="#000" >0</text>
<text x="177.40" y="512.40" font-size="15.4" text-anchor="middle" fill="#000" >2000</text>
<text x="296.80" y="512.40" font-size="15.4" text-anchor="middle" fill="#000" >4000</text>
<text x="177.90" y="527.40" font-size="15.4" text-anchor="middle" fill="#000" >MAP (mm)</text>
<rect x="472.38" y="484.95" width="9.51" height="9.25" fill="#f0beaa" fill-opacity="0.6" stroke="#eba892" stroke-width="0.9" />
<rect x="481.89" y="486.49" width="9.51" height="7.71" fill="#f0beaa" fill-opacity="0.6" stroke="#eba892" stroke-width="0.9" />
<rect x="491.40" y="490.57" width="9.51" height="3.63" fill="#f0beaa" fill-opacity="0.6" stroke="#eba892" stroke-width="0.9" />
<rect x="500.91" y="454.02" width="9.51" height="40.18" fill="#f0beaa" fill-opacity="0.6" stroke="#eba892" stroke-width="0.9" />
<rect x="510.42" y="394.43" width="9.51" height="99.77" fill="#f0beaa" fill-opacity="0.6" stroke="#eba892" stroke-width="0.9" />
<rect x="519.93" y="327.67" width="9.51" height="166.53" fill="#f0beaa" fill-opacity="0.6" stroke="#eba892" stroke-width="0.9" />
<rect x="529.44" y="292.39" width="9.51" height="201.81" fill="#f0beaa" fill-opacity="0.6" stroke="#eba892" stroke-width="0.9" />
<rect x="538.95" y="379.56" width="9.51" height="114.64" fill="#f0beaa" fill-opacity="0.6" stroke="#eba892" stroke-width="0.9" />
<rect x="548.46" y="404.41" width="9.51" height="89.79" fill="#f0beaa" fill-opacity="0.6" stroke="#eba892" stroke-width="0.9" />
<rect x="557.97" y="444.31" width="9.51" height="49.88" fill="#f0beaa" fill-opacity="0.6" stroke="#eba892" stroke-width="0.9" />
<rect x="567.48" y="466.99" width="9.51" height="27.21" fill="#f0beaa" fill-opacity="0.6" stroke="#eba892" stroke-width="0.9" />
<rect x="576.99" y="476.51" width="9.51" height="17.69" fill="#f0beaa" fill-opacity="0.6" stroke="#eba892" stroke-width="0.9" />
<rect x="586.50" y="470.80" width="9.51" height="23.40" fill="#f0beaa" fill-opacity="0.6" stroke="#eba892" stroke-width="0.9" />
<rect x="596.01" y="490.57" width="9.51" height="3.63" fill="#f0beaa" fill-opacity="0.6" stroke="#eba892" stroke-width="0.9" />
<rect x="605.52" y="457.01" width="9.51" height="37.19" fill="#f0beaa" fill-opacity="0.6" stroke="#eba892" stroke-width="0.9" />
<rect x="615.03" y="485.31" width="9.51" height="8.89" fill="#f0beaa" fill-opacity="0.6" stroke="#eba892" stroke-width="0.9" />
<rect x="481.89" y="492.39" width="9.51" height="1.81" fill="#e1463c" fill-opacity="0.72" stroke="#b52b24" stroke-width="0.9" />
<rect x="491.40" y="486.49" width="9.51" height="7.71" fill="#e1463c" fill-opacity="0.72" stroke="#b52b24" stroke-width="0.9" />
<rect x="500.91" y="458.46" width="9.51" height="35.74" fill="#e1463c" fill-opacity="0.72" stroke="#b52b24" stroke-width="0.9" />
<rect x="510.42" y="427.35" width="9.51" height="66.85" fill="#e1463c" fill-opacity="0.72" stroke="#b52b24" stroke-width="0.9" />
<rect x="519.93" y="379.56" width="9.51" height="114.64" fill="#e1463c" fill-opacity="0.72" stroke="#b52b24" stroke-width="0.9" />
<rect x="529.44" y="316.43" width="9.51" height="177.77" fill="#e1463c" fill-opacity="0.72" stroke="#b52b24" stroke-width="0.9" />
<rect x="538.95" y="383.55" width="9.51" height="110.65" fill="#e1463c" fill-opacity="0.72" stroke="#b52b24" stroke-width="0.9" />
<rect x="548.46" y="304.09" width="9.51" height="190.11" fill="#e1463c" fill-opacity="0.72" stroke="#b52b24" stroke-width="0.9" />
<rect x="557.97" y="399.42" width="9.51" height="94.78" fill="#e1463c" fill-opacity="0.72" stroke="#b52b24" stroke-width="0.9" />
<rect x="567.48" y="434.79" width="9.51" height="59.41" fill="#e1463c" fill-opacity="0.72" stroke="#b52b24" stroke-width="0.9" />
<rect x="576.99" y="478.33" width="9.51" height="15.87" fill="#e1463c" fill-opacity="0.72" stroke="#b52b24" stroke-width="0.9" />
<rect x="586.50" y="481.32" width="9.51" height="12.88" fill="#e1463c" fill-opacity="0.72" stroke="#b52b24" stroke-width="0.9" />
<rect x="596.01" y="489.30" width="9.51" height="4.90" fill="#e1463c" fill-opacity="0.72" stroke="#b52b24" stroke-width="0.9" />
<rect x="605.52" y="489.94" width="9.51" height="4.26" fill="#e1463c" fill-opacity="0.72" stroke="#b52b24" stroke-width="0.9" />
<rect x="615.03" y="481.86" width="9.51" height="12.34" fill="#e1463c" fill-opacity="0.72" stroke="#b52b24" stroke-width="0.9" />
<polyline points="443.6,494.0 475.0,493.1 491.4,489.8 495.0,489.3 501.3,487.9 505.5,484.2 508.7,480.5 512.9,476.8 516.1,470.5 519.2,461.1 521.5,450.3 525.5,430.2 529.3,415.2 533.1,400.1 536.1,385.1 539.1,370.0 543.0,360.0 546.0,349.2 551.3,343.2 554.3,334.2 556.6,328.2 561.1,322.1 567.1,314.6 573.1,311.6 580.6,307.1 588.2,304.1 595.7,299.6 606.2,298.1 609.2,293.5 613.8,290.5 618.3,288.3" fill="none" stroke="#ee4434" stroke-width="2.4" stroke-linejoin="round" stroke-linecap="round" />
<polyline points="491.4,494.0 495.0,491.6 501.3,491.1 505.5,489.5 507.6,486.3 510.8,483.2 513.4,482.6 514.5,479.5 517.6,474.7 521.3,466.3 524.5,458.9 527.0,450.0 531.6,430.2 536.1,415.2 539.1,400.1 542.1,389.6 545.9,379.0 549.0,370.5 550.5,360.0 555.1,343.2 559.6,328.2 562.6,319.1 567.1,309.3 571.6,304.1 576.1,298.8 582.1,296.6 588.2,293.5 597.2,292.0 612.2,290.5 621.3,289.0" fill="none" stroke="#bc2219" stroke-width="2.4" stroke-linejoin="round" stroke-linecap="round" />
<line x1="372.40" y1="267.60" x2="633.50" y2="267.60" stroke="#8a8a8a" stroke-width="1.1"/>
<line x1="372.40" y1="267.10" x2="372.40" y2="494.20" stroke="#3d3d3d" stroke-width="1.1"/>
<line x1="368.40" y1="494.20" x2="637.50" y2="494.20" stroke="#3d3d3d" stroke-width="1.1"/>
<line x1="633.50" y1="267.60" x2="633.50" y2="494.20" stroke="#3d3d3d" stroke-width="1.1"/>
<line x1="368.40" y1="494.20" x2="372.40" y2="494.20" stroke="#3d3d3d" stroke-width="1.0"/>
<line x1="368.40" y1="403.75" x2="372.40" y2="403.75" stroke="#3d3d3d" stroke-width="1.0"/>
<line x1="368.40" y1="313.30" x2="372.40" y2="313.30" stroke="#3d3d3d" stroke-width="1.0"/>
<line x1="370.40" y1="448.97" x2="372.40" y2="448.97" stroke="#3d3d3d" stroke-width="1.0"/>
<line x1="370.40" y1="358.52" x2="372.40" y2="358.52" stroke="#3d3d3d" stroke-width="1.0"/>
<line x1="370.40" y1="268.07" x2="372.40" y2="268.07" stroke="#3d3d3d" stroke-width="1.0"/>
<text x="0" y="0" font-size="14.9" text-anchor="end" fill="#000" transform="translate(365.40,499.00) scale(1,1.07)">0.0</text>
<text x="0" y="0" font-size="14.9" text-anchor="end" fill="#000" transform="translate(365.40,408.55) scale(1,1.07)">0.1</text>
<text x="0" y="0" font-size="14.9" text-anchor="end" fill="#000" transform="translate(365.40,318.10) scale(1,1.07)">0.2</text>
<line x1="633.50" y1="494.00" x2="637.50" y2="494.00" stroke="#3d3d3d" stroke-width="1.0"/>
<line x1="633.50" y1="390.60" x2="637.50" y2="390.60" stroke="#3d3d3d" stroke-width="1.0"/>
<line x1="633.50" y1="287.20" x2="637.50" y2="287.20" stroke="#3d3d3d" stroke-width="1.0"/>
<line x1="633.50" y1="473.32" x2="635.50" y2="473.32" stroke="#3d3d3d" stroke-width="1.0"/>
<line x1="633.50" y1="452.64" x2="635.50" y2="452.64" stroke="#3d3d3d" stroke-width="1.0"/>
<line x1="633.50" y1="431.96" x2="635.50" y2="431.96" stroke="#3d3d3d" stroke-width="1.0"/>
<line x1="633.50" y1="411.28" x2="635.50" y2="411.28" stroke="#3d3d3d" stroke-width="1.0"/>
<line x1="633.50" y1="369.92" x2="635.50" y2="369.92" stroke="#3d3d3d" stroke-width="1.0"/>
<line x1="633.50" y1="349.24" x2="635.50" y2="349.24" stroke="#3d3d3d" stroke-width="1.0"/>
<line x1="633.50" y1="328.56" x2="635.50" y2="328.56" stroke="#3d3d3d" stroke-width="1.0"/>
<line x1="633.50" y1="307.88" x2="635.50" y2="307.88" stroke="#3d3d3d" stroke-width="1.0"/>
<text x="0" y="0" font-size="14.9" text-anchor="start" fill="#000" transform="translate(640.60,498.80) scale(1,1.07)">0</text>
<text x="0" y="0" font-size="14.9" text-anchor="start" fill="#000" transform="translate(640.60,395.40) scale(1,1.07)">50</text>
<text x="0" y="0" font-size="14.9" text-anchor="start" fill="#000" transform="translate(640.60,292.00) scale(1,1.07)">100</text>
<line x1="396.30" y1="494.20" x2="396.30" y2="498.20" stroke="#3d3d3d" stroke-width="1.0"/>
<line x1="491.40" y1="494.20" x2="491.40" y2="498.20" stroke="#3d3d3d" stroke-width="1.0"/>
<line x1="586.50" y1="494.20" x2="586.50" y2="498.20" stroke="#3d3d3d" stroke-width="1.0"/>
<line x1="443.85" y1="494.20" x2="443.85" y2="496.20" stroke="#3d3d3d" stroke-width="1.0"/>
<line x1="538.95" y1="494.20" x2="538.95" y2="496.20" stroke="#3d3d3d" stroke-width="1.0"/>
<text x="380.20" y="285.70" font-size="12.8" text-anchor="start" fill="#000" >Angiosperm</text>
<text x="0" y="0" font-size="14.85" text-anchor="middle" fill="#000" transform="translate(680.00,381.00) rotate(-90)">Cumulative distribution (%)</text>
<line x1="407.60" y1="354.40" x2="407.60" y2="419.30" stroke="#3d3d3d" stroke-width="0.9"/>
<line x1="407.60" y1="419.30" x2="491.90" y2="419.30" stroke="#3d3d3d" stroke-width="0.9"/>
<line x1="405.60" y1="410.20" x2="407.60" y2="410.20" stroke="#3d3d3d" stroke-width="0.9"/>
<line x1="405.60" y1="382.80" x2="407.60" y2="382.80" stroke="#3d3d3d" stroke-width="0.9"/>
<line x1="405.60" y1="355.40" x2="407.60" y2="355.40" stroke="#3d3d3d" stroke-width="0.9"/>
<line x1="428.20" y1="419.30" x2="428.20" y2="421.30" stroke="#3d3d3d" stroke-width="0.9"/>
<line x1="470.80" y1="419.30" x2="470.80" y2="421.30" stroke="#3d3d3d" stroke-width="0.9"/>
<text x="405.00" y="358.90" font-size="12.6" text-anchor="end" fill="#000" >30</text>
<text x="405.00" y="386.30" font-size="12.6" text-anchor="end" fill="#000" >15</text>
<text x="405.00" y="413.70" font-size="12.6" text-anchor="end" fill="#000" >0</text>
<text x="0" y="0" font-size="14.7" text-anchor="middle" fill="#000" transform="translate(386.70,386.80) rotate(-90)">MAT (°C)</text>
<line x1="428.40" y1="365.60" x2="428.40" y2="385.80" stroke="#ea8c6c" stroke-width="1.2"/>
<line x1="428.40" y1="397.80" x2="428.40" y2="404.00" stroke="#ea8c6c" stroke-width="1.2"/>
<line x1="424.00" y1="365.60" x2="432.80" y2="365.60" stroke="#ea8c6c" stroke-width="1.2"/>
<line x1="424.00" y1="404.00" x2="432.80" y2="404.00" stroke="#ea8c6c" stroke-width="1.2"/>
<rect x="415.50" y="385.80" width="25.80" height="12.00" fill="#f4c8b8" stroke="none" stroke-width="0" />
<line x1="415.50" y1="392.70" x2="441.30" y2="392.70" stroke="#e8683f" stroke-width="1.6"/>
<line x1="471.00" y1="376.50" x2="471.00" y2="385.20" stroke="#c53b31" stroke-width="1.2"/>
<line x1="471.00" y1="395.80" x2="471.00" y2="402.40" stroke="#c53b31" stroke-width="1.2"/>
<line x1="466.60" y1="376.50" x2="475.40" y2="376.50" stroke="#c53b31" stroke-width="1.2"/>
<line x1="466.60" y1="402.40" x2="475.40" y2="402.40" stroke="#c53b31" stroke-width="1.2"/>
<rect x="458.30" y="385.20" width="25.40" height="10.60" fill="#ec4636" stroke="none" stroke-width="0" />
<line x1="458.30" y1="390.40" x2="483.70" y2="390.40" stroke="#a5231b" stroke-width="1.6"/>
<text x="428.90" y="360.00" font-size="10.6" text-anchor="middle" fill="#000" >B</text>
<text x="470.80" y="373.40" font-size="10.6" text-anchor="middle" fill="#000" >A</text>
<text x="428.90" y="415.40" font-size="10.6" text-anchor="middle" fill="#000" >695</text>
<text x="472.30" y="415.40" font-size="10.6" text-anchor="middle" fill="#000" >229</text>
<text x="427.80" y="432.80" font-size="11.2" text-anchor="middle" fill="#000" >Mature</text>
<text x="469.90" y="432.80" font-size="11.2" text-anchor="middle" fill="#000" >Old</text>
<text x="396.20" y="512.40" font-size="15.4" text-anchor="middle" fill="#000" >−20</text>
<text x="491.40" y="512.40" font-size="15.4" text-anchor="middle" fill="#000" >0</text>
<text x="586.50" y="512.40" font-size="15.4" text-anchor="middle" fill="#000" >20</text>
<text x="502.90" y="527.20" font-size="15.4" text-anchor="middle" fill="#000" >MAT (°C)</text>
<text x="0" y="0" font-size="14.9" text-anchor="middle" fill="#000" transform="translate(11.00,128.50) rotate(-90)">Frequency</text>
<text x="0" y="0" font-size="14.6" text-anchor="middle" fill="#000" transform="translate(13.30,381.20) rotate(-90)">Frequency</text>
<text x="3.50" y="15.60" font-size="20.5" text-anchor="start" fill="#000" >a</text>
<text x="344.00" y="15.50" font-size="20.5" text-anchor="start" fill="#000" >b</text>
<text x="5.30" y="270.30" font-size="20.5" text-anchor="start" fill="#000" >c</text>
<text x="343.40" y="269.00" font-size="20.5" text-anchor="start" fill="#000" >d</text>
</svg>
</body></html>
